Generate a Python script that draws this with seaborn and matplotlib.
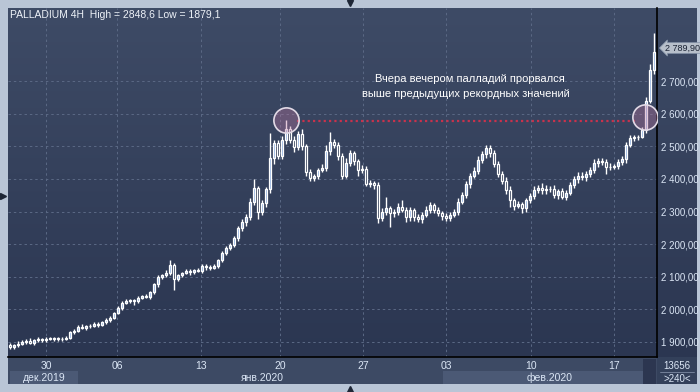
import numpy as np
import pandas as pd
import matplotlib
matplotlib.use("Agg")
import matplotlib.pyplot as plt
from matplotlib.patches import Rectangle
from matplotlib.lines import Line2D
from matplotlib.colors import LinearSegmentedColormap
import seaborn as sns

# ─── Data (4H candles) ───────────────────────────────────────────────────
first_open = 1890
closes = [
    1885, 1890, 1895, 1900, 1903, 1898, 1905, 1908, 1906, 1910, 1909, 1911, 1908, 1910, 1912,
    1930, 1935, 1946, 1944, 1948, 1950, 1955, 1953, 1960, 1967, 1975, 1989, 2005, 2020,
    2025, 2028, 2026, 2036, 2040, 2038, 2052, 2078, 2098, 2105, 2112, 2135, 2092, 2105,
    2112, 2118, 2114, 2120, 2118, 2134, 2130, 2128, 2132, 2150, 2172, 2188, 2196, 2218,
    2250, 2268, 2282, 2330, 2372, 2298, 2325, 2368, 2465, 2510, 2470, 2520, 2552, 2520,
    2498, 2538, 2500, 2420, 2403, 2408, 2428, 2433, 2485, 2512, 2505, 2470, 2410, 2450,
    2478, 2455, 2428, 2430, 2385, 2388, 2380, 2280, 2298, 2310, 2294, 2298, 2314, 2306,
    2282, 2305, 2284, 2276, 2290, 2306, 2320, 2306, 2295, 2285, 2280, 2290, 2300, 2330,
    2352, 2385, 2410, 2425, 2458, 2475, 2495, 2480, 2445, 2415, 2395, 2365, 2335, 2318,
    2322, 2310, 2335, 2348, 2366, 2372, 2365, 2370, 2368, 2350, 2362, 2345, 2358, 2382,
    2400, 2410, 2405, 2415, 2428, 2450, 2455, 2452, 2436, 2438, 2440, 2452, 2460, 2505,
    2525, 2528, 2530, 2550, 2640, 2735, 2790,
]
wick_up = [
    6, 4, 8, 5, 6, 9, 4, 6, 5, 4, 6, 3, 5, 4, 6,
    5, 4, 6, 8, 5, 4, 7, 5, 4, 6, 5, 4, 6, 5,
    6, 5, 4, 6, 5, 7, 5, 4, 6, 5, 8, 16, 6, 5,
    4, 6, 5, 4, 8, 6, 4, 5, 6, 4, 6, 5, 8, 6,
    6, 8, 10, 12, 28, 6, 10, 8, 75, 8, 10, 12, 28, 10,
    12, 10, 14, 8, 10, 8, 6, 12, 20, 32, 10, 8, 10, 14,
    10, 8, 6, 12, 10, 8, 6, 10, 12, 34, 8, 10, 12, 21,
    8, 10, 6, 8, 10, 12, 8, 6, 8, 6, 10, 8, 8, 10,
    8, 10, 8, 10, 12, 10, 8, 10, 8, 10, 8, 10, 12, 8,
    10, 8, 6, 10, 12, 8, 14, 10, 8, 12, 8, 10, 8, 10,
    8, 10, 12, 8, 10, 12, 8, 10, 8, 10, 6, 8, 10, 8,
    10, 8, 6, 10, 12, 18, 58,
]
wick_dn = [
    6, 8, 5, 4, 7, 5, 8, 4, 6, 5, 4, 6, 5, 4, 5,
    4, 6, 5, 4, 6, 5, 4, 8, 5, 4, 6, 5, 4, 6,
    5, 4, 12, 6, 5, 4, 6, 5, 8, 6, 5, 8, 33, 6,
    6, 5, 8, 6, 4, 5, 8, 6, 4, 5, 6, 4, 5, 6,
    8, 10, 12, 8, 10, 20, 8, 10, 12, 20, 10, 8, 12, 10,
    14, 10, 12, 10, 8, 10, 8, 6, 10, 12, 10, 12, 10, 8,
    10, 12, 20, 10, 8, 10, 12, 15, 10, 8, 42, 12, 10, 8,
    14, 10, 12, 8, 10, 8, 10, 12, 8, 10, 8, 10, 8, 10,
    8, 10, 12, 8, 10, 8, 10, 12, 10, 8, 12, 10, 20, 12,
    8, 14, 10, 8, 10, 8, 12, 10, 8, 10, 12, 8, 10, 8,
    10, 12, 8, 10, 8, 10, 12, 8, 20, 10, 8, 10, 8, 10,
    8, 10, 8, 6, 10, 8, 12,
]
price_ticks = [1900, 2000, 2100, 2200, 2300, 2400, 2500, 2600, 2700]
day_ticks = [9, 26.75, 47.75, 67.5, 88.25, 109, 130.25, 151]
day_labels = ["30", "06", "13", "20", "27", "03", "10", "17"]
month_labels = ["дек.2019", "янв.2020", "фев.2020"]
record_span = [71.75, 156.25]
record_price = [2577, 2577]
breakout_idx = [69, 158.75]
breakout_price = [2580, 2590]
last_price = "2 789,90"

# ─── Helpers ─────────────────────────────────────────────────────────────
W, H = 700, 392


def fx(x):
    return x / W


def fy(y):
    return 1 - y / H


sns.set_style("dark")
plt.rcParams["font.family"] = ["Liberation Sans", "DejaVu Sans"]

LABEL = "#dbe6f5"
fig = plt.figure(figsize=(7, 3.92), dpi=100, facecolor="#b9c5d6")


def box(x0, y0, x1, y1, color, z=-1):
    fig.add_artist(Rectangle((fx(x0), fy(y1)), fx(x1) - fx(x0), fy(y0) - fy(y1),
                             transform=fig.transFigure, facecolor=color,
                             edgecolor="none", zorder=z))


# bottom date strip, month bands, bottom-right box
box(8, 357, 697, 384, "#3d4a64")
box(10, 371, 78, 384, "#4b5975")
box(443, 371, 643, 384, "#4b5975")
box(643, 359, 656, 384, "#2c3650")
box(657, 357, 697, 384, "#33405a")

grad = LinearSegmentedColormap.from_list("bg", ["#3e4b66", "#2b3651"])
vals = np.linspace(0, 1, 256).reshape(-1, 1)

# right price column
ax_r = fig.add_axes([fx(657), fy(357), fx(697) - fx(657), fy(8) - fy(357)])
ax_r.imshow(vals, cmap=grad, aspect="auto", extent=[0, 1, 0, 1])
ax_r.axis("off")

# main chart
ax = fig.add_axes([fx(8), fy(357), fx(657) - fx(8), fy(8) - fy(357)])
ax.imshow(vals, cmap=grad, aspect="auto", extent=[0, 1, 0, 1],
          transform=ax.transAxes, zorder=0)

opens = [first_open] + closes[:-1]
idx = np.arange(len(closes))
tops = np.maximum(opens, closes)
bots = np.minimum(opens, closes)
highs = tops + np.array(wick_up)
lows = bots - np.array(wick_dn)
ax.vlines(idx, lows, highs, color="white", lw=1.0, zorder=2)
heights = np.maximum(tops - bots, 2)
fills = ["#8fb0e0" if c >= o else "#2e3a54" for o, c in zip(opens, closes)]
ax.bar(idx, heights, bottom=bots, width=0.68, color=fills, edgecolor="white",
       linewidth=0.9, zorder=3)

# record level and breakout circles
sns.lineplot(x=record_span, y=record_price, ax=ax, color="#c8324c", lw=1.6,
             linestyle=(0, (1, 1.4)), sort=False, estimator=None, zorder=4)
circ = pd.DataFrame({"idx": breakout_idx, "price": breakout_price})
sns.scatterplot(data=circ, x="idx", y="price", ax=ax, s=330, legend=False,
                edgecolor="#e2dae6", linewidth=1.2, zorder=5)
ax.collections[-1].set_facecolor((0.72, 0.46, 0.62, 0.38))

ax.set_xlim(-0.5, 161.75)
ax.set_ylim(1854, 2924)
ax.set_xticks(day_ticks)
ax.set_xticklabels(day_labels)
ax.set_yticks(price_ticks)
ax.set_yticklabels([f"{p // 1000} {p % 1000:03d},00" for p in price_ticks])
ax.set_xlabel("")
ax.set_ylabel("")
ax.grid(True, color="#5b6985", ls=(0, (2.5, 3)), lw=0.7)
ax.tick_params(axis="y", left=False, right=False, labelleft=False, labelright=True,
               length=0, pad=3, labelsize=7, labelcolor=LABEL)
ax.tick_params(axis="x", length=0, pad=3, labelsize=7.5, labelcolor=LABEL)
for side in ["top", "left"]:
    ax.spines[side].set_visible(False)
for side in ["right", "bottom"]:
    ax.spines[side].set_visible(True)
    ax.spines[side].set_color("black")
    ax.spines[side].set_linewidth(1.2)

# texts
fig.text(fx(10), fy(15), "PALLADIUM 4H  High = 2848,6 Low = 1879,1", ha="left",
         va="center", fontsize=7.5, color="#eef2f8")
fig.text(fx(375), fy(79), "Вчера вечером палладий прорвался", ha="left",
         va="center", fontsize=8, color="white")
fig.text(fx(362), fy(94), "выше предыдущих рекордных значений", ha="left",
         va="center", fontsize=8, color="white")
fig.text(fx(44), fy(378), month_labels[0], ha="center", va="center",
         fontsize=7.5, color=LABEL)
fig.text(fx(262), fy(378), month_labels[1], ha="center", va="center",
         fontsize=7.5, color=LABEL)
fig.text(fx(550), fy(378), month_labels[2], ha="center", va="center",
         fontsize=7.5, color=LABEL)
fig.text(fx(677), fy(366), "13656", ha="center", va="center", fontsize=7,
         color=LABEL)
fig.add_artist(Line2D([fx(660), fx(694)], [fy(372), fy(372)],
                      transform=fig.transFigure, color="#7d8aa2", lw=0.6))
fig.text(fx(677), fy(379), ">240<", ha="center", va="center", fontsize=7,
         color=LABEL)
fig.text(fx(665), fy(48), last_price, ha="left", va="center", fontsize=6.5,
         color="#1a2233", zorder=6,
         bbox=dict(boxstyle="larrow,pad=0.1", fc="#b7bfca", ec="#8593a8", lw=0.5))

# little navigation triangles on the frame
for (px, py, m) in [(350, 3, "v"), (3, 196, ">"), (350, 389, "^")]:
    fig.add_artist(Line2D([fx(px)], [fy(py)], marker=m, ms=5, color="#1e2636",
                          transform=fig.transFigure, lw=0))

fig.savefig("out.png", dpi=100, facecolor=fig.get_facecolor())
